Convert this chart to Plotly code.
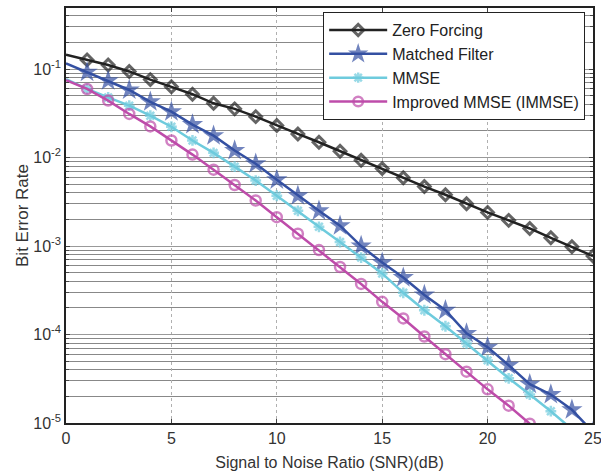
import plotly.graph_objects as go
import numpy as np

snr = list(range(0, 26))

zf = [0.145, 0.127, 0.111, 0.094, 0.076, 0.063, 0.052, 0.041, 0.0355, 0.029,
      0.023, 0.0185, 0.0149, 0.0118, 0.0093, 0.0075, 0.0059, 0.0047, 0.0038,
      0.0030, 0.0024, 0.00195, 0.00158, 0.00124, 0.00098, 0.00077]

mf = [0.116, 0.092, 0.074, 0.058, 0.0427, 0.033, 0.0236, 0.0177, 0.012, 0.0085,
      0.0056, 0.0037, 0.0025, 0.0017, 0.0010, 0.00065, 0.00044, 0.00028, 0.000188,
      0.000103, 7.2e-5, 4.5e-5, 2.75e-5, 2.1e-5, 1.41e-5, 7.9e-6]

mmse = [0.077, 0.0596, 0.0478, 0.0386, 0.0297, 0.0223, 0.0156, 0.0113, 0.0079,
        0.0055, 0.0037, 0.0025, 0.00165, 0.00111, 0.00074, 0.00049, 0.000296,
        0.000188, 0.000124, 7.9e-5, 5.1e-5, 3.2e-5, 2.1e-5, 1.36e-5, 8.5e-6]

immse = [0.075, 0.0596, 0.044, 0.0311, 0.0225, 0.0156, 0.0108, 0.0073, 0.0049,
         0.00327, 0.00212, 0.00138, 0.00090, 0.00058, 0.000373, 0.000234,
         0.000152, 9.5e-5, 6.0e-5, 3.8e-5, 2.4e-5, 1.57e-5, 9.8e-6]

ytick_vals = [1e-5, 1e-4, 1e-3, 1e-2, 1e-1]
ytick_text = ["10<sup>-5</sup>", "10<sup>-4</sup>", "10<sup>-3</sup>", "10<sup>-2</sup>", "10<sup>-1</sup>"]
xtick_vals = [0, 5, 10, 15, 20, 25]


def sizes(n, s):
    # no marker at the first point (x = 0), as in the reference
    return [0] + [s] * (n - 1)


fig = go.Figure()

fig.add_trace(go.Scatter(x=snr[:len(zf)], y=zf, name="Zero Forcing", mode="lines+markers",
                         line=dict(color="#222222", width=2.5),
                         marker=dict(symbol="diamond-open", size=sizes(len(zf), 9), color="#222222",
                                     line=dict(width=3, color="#222222"))))
fig.add_trace(go.Scatter(x=snr[:len(mf)], y=mf, name="Matched Filter", mode="lines+markers",
                         line=dict(color="#3450A2", width=2.5),
                         marker=dict(symbol="star", size=sizes(len(mf), 16), color="#3450A2",
                                     line=dict(width=0))))
fig.add_trace(go.Scatter(x=snr[:len(mmse)], y=mmse, name="MMSE", mode="lines+markers",
                         line=dict(color="#6ECBDD", width=2.5),
                         marker=dict(symbol="asterisk-open", size=sizes(len(mmse), 9), color="#6ECBDD",
                                     line=dict(width=2.5, color="#6ECBDD"))))
fig.add_trace(go.Scatter(x=snr[:len(immse)], y=immse, name="Improved MMSE (IMMSE)", mode="lines+markers",
                         line=dict(color="#BE4CAA", width=2.5),
                         marker=dict(symbol="circle-open", size=sizes(len(immse), 10), color="#BE4CAA",
                                     line=dict(width=2.5, color="#BE4CAA"))))

fig.update_layout(
    width=601, height=473,
    margin=dict(l=66, r=8, t=8, b=50, autoexpand=False),
    paper_bgcolor="white", plot_bgcolor="white",
    font=dict(family="Liberation Sans, Arial, sans-serif", size=16, color="#333333"),
    showlegend=True,
    legend=dict(x=0.488, y=0.99, xanchor="left", yanchor="top",
                bgcolor="white", bordercolor="#222222", borderwidth=1,
                font=dict(size=16, color="#222222"), itemwidth=58,
                tracegroupgap=0),
)

fig.update_xaxes(range=[0, 25], tickvals=xtick_vals, showgrid=True, automargin=False,
                 gridcolor="#b0b0b0", gridwidth=1, griddash="dot",
                 showline=True, linecolor="#222222", linewidth=1.5, mirror="ticks",
                 ticks="inside", ticklen=4, tickcolor="#444444", ticklabeloverflow="allow",
                 zeroline=False, tickfont=dict(size=16, color="#333333"),
                 title=dict(text="Signal to Noise Ratio (SNR)(dB)", font=dict(size=16, color="#333333"),
                            standoff=11))

fig.update_yaxes(type="log", range=[-5, np.log10(0.49)], tickvals=ytick_vals, ticktext=ytick_text,
                 showgrid=True, gridcolor="#999999", gridwidth=1, automargin=False,
                 showline=True, linecolor="#222222", linewidth=1.5, mirror="ticks",
                 ticks="inside", ticklen=4, tickcolor="#444444",
                 minor=dict(showgrid=True, gridcolor="#888888", gridwidth=1,
                            ticks="inside", ticklen=3, tickcolor="#444444", dtick="D1"),
                 zeroline=False, tickfont=dict(size=16, color="#333333"),
                 title=dict(text="Bit Error Rate", font=dict(size=17, color="#333333"), standoff=0))

fig.write_html("out.html", config={"displayModeBar": False},
               post_script="document.body.style.margin='0';document.body.style.overflow='hidden';")
